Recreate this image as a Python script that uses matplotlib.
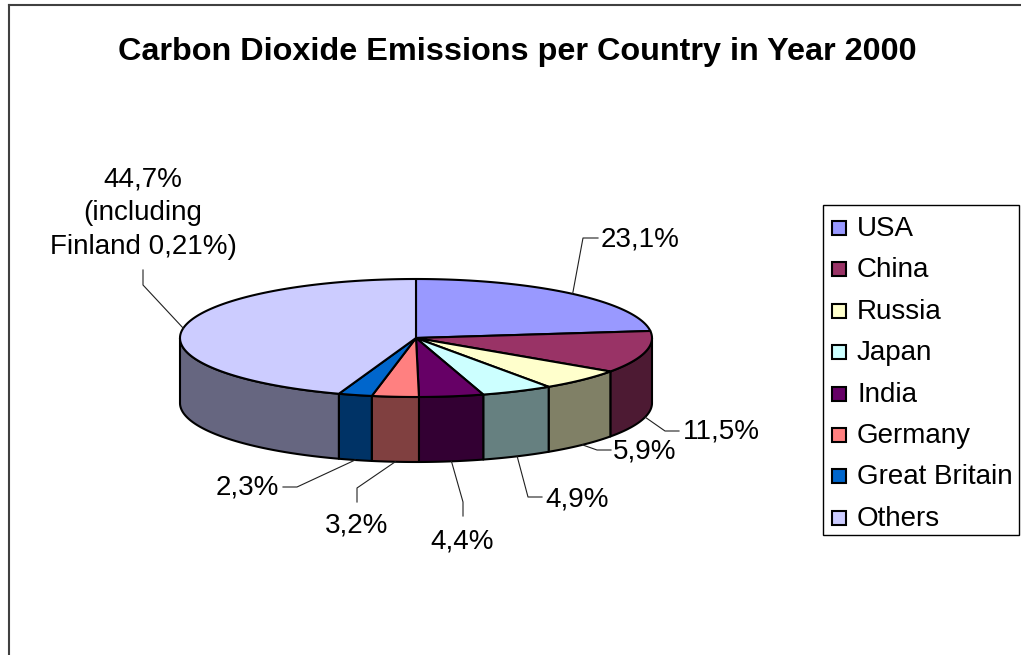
import numpy as np
import matplotlib
matplotlib.use("Agg")
import matplotlib.pyplot as plt
from matplotlib.patches import Polygon, Rectangle
from matplotlib.colors import to_rgb

plt.rcParams['font.family'] = ['Liberation Sans', 'DejaVu Sans']

# ---- data ----
countries = ["USA", "China", "Russia", "Japan", "India", "Germany", "Great Britain", "Others"]
shares = [23.1, 11.5, 5.9, 4.9, 4.4, 3.2, 2.3, 44.7]
top_colors = ["#9999FF", "#993366", "#FFFFCC", "#CCFFFF", "#660066", "#FF8080", "#0066CC", "#CCCCFF"]
title = "Carbon Dioxide Emissions per Country in Year 2000"
others_note = "(including\nFinland 0,21%)"

# ---- layout (pixels) ----
W, H = 1021, 655
fig = plt.figure(figsize=(W / 100, H / 100), dpi=100)
ax = fig.add_axes([0, 0, 1, 1])
ax.set_xlim(0, W)
ax.set_ylim(H, 0)
ax.axis('off')

cx, cy, a, b, depth = 416, 338, 236, 59, 65
FS = 20

def pt(theta, dz=0.0):
    t = np.radians(theta)
    return cx + a * np.cos(t), cy - b * np.sin(t) + dz

def arc(t1, t2, dz=0.0, n=None):
    if n is None:
        n = max(int(abs(t2 - t1) * 2), 2)
    ts = np.linspace(t1, t2, n)
    xs, ys = pt(ts, dz)
    return np.column_stack([xs, ys])

# wedge angles (start at 12 o'clock, clockwise)
total = sum(shares)
starts, ends = [], []
cum = 0.0
for v in shares:
    s = 90 - cum / total * 360
    e = s - v / total * 360
    starts.append(s)
    ends.append(e)
    cum += v

def darker(c, f=0.5):
    r, g, bb = to_rgb(c)
    return (r * f, g * f, bb * f)

edge_kw = dict(edgecolor='black', linewidth=1.5, joinstyle='round')

# side walls (front half only)
for i, v in enumerate(shares):
    lo, hi = ends[i], starts[i]
    for k in (-1, 0, 1):
        fl, fh = -180 + 360 * k, 360 * k
        l2, h2 = max(lo, fl), min(hi, fh)
        if h2 - l2 > 1e-6:
            top = arc(h2, l2)
            bot = arc(l2, h2, dz=depth)
            poly = np.vstack([top, bot])
            ax.add_patch(Polygon(poly, closed=True, facecolor=darker(top_colors[i]), **edge_kw))

# top faces
for i, v in enumerate(shares):
    pts = np.vstack([[cx, cy], arc(starts[i], ends[i])])
    ax.add_patch(Polygon(pts, closed=True, facecolor=top_colors[i], **edge_kw))

# labels with leader lines
def fmt(v):
    return f"{v:.1f}".replace('.', ',') + '%'

# (elbow, end, text pos, ha, va)
label_layout = [
    ((583, 238), (598, 238), (601, 240), 'left', 'center'),
    ((665, 431), (679, 431), (683, 432), 'left', 'center'),
    ((597, 450), (611, 450), (613, 452), 'left', 'center'),
    ((528, 497), (542, 497), (545, 499), 'left', 'center'),
    ((463, 502), (463, 516), (462, 541), 'center', 'center'),
    ((357, 488), (357, 502), (357, 525), 'center', 'center'),
    ((297, 487), (283, 487), (279, 488), 'right', 'center'),
    ((143, 285), (143, 270), (143, 213), 'center', 'center'),
]
for i, v in enumerate(shares):
    mid = (starts[i] + ends[i]) / 2
    sin_m = np.sin(np.radians(mid))
    sx, sy = pt(mid, depth if sin_m < 0 else 0.0)
    (ex, ey), (fx, fy), (tx, ty), ha, va = label_layout[i]
    ax.plot([sx, ex, fx], [sy, ey, fy], color='#202020', linewidth=0.8, zorder=1)
    txt = fmt(v)
    if countries[i] == "Others":
        txt = txt + "\n" + others_note
    ax.text(tx, ty, txt, ha=ha, va=va, fontsize=FS, multialignment='center',
            linespacing=1.38, color='black')

# title
ax.text(517, 52, title, ha='center', va='center', fontsize=23.3, fontweight='bold', color='black')

# legend
lx0, ly0, lx1, ly1 = 823, 205, 1019, 535
ax.add_patch(Rectangle((lx0, ly0), lx1 - lx0, ly1 - ly0, facecolor='white',
                       edgecolor='black', linewidth=1.0))
row0, dy = 228, 41.4
for i, name in enumerate(countries):
    y = row0 + i * dy
    ax.add_patch(Rectangle((832, y - 7), 14, 14, facecolor=top_colors[i],
                           edgecolor='black', linewidth=1.5))
    ax.text(857, y + 1, name, ha='left', va='center', fontsize=FS, color='black')

# outer frame (top and left edges)
ax.plot([9, W], [5, 5], color='#404040', linewidth=1.5)
ax.plot([9, 9], [5, H], color='#404040', linewidth=1.5)

fig.savefig("out.png", dpi=100)
